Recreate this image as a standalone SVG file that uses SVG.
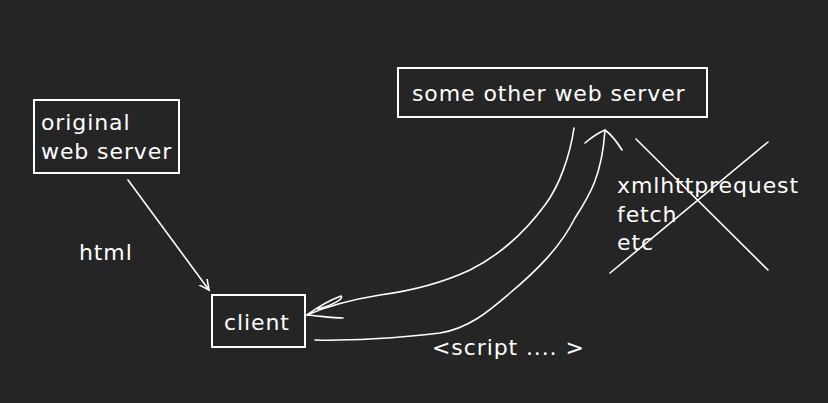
<svg xmlns="http://www.w3.org/2000/svg" width="828" height="403" viewBox="0 0 828 403">
<style>
.bg{fill:#252525}
.box{fill:none;stroke:#ffffff;stroke-width:2}
.ln{fill:none;stroke:#ffffff;stroke-width:1.6;stroke-linecap:round;stroke-linejoin:round}
.t{font-family:"DejaVu Sans",Verdana,sans-serif;font-size:22px;letter-spacing:0.9px;fill:#ffffff}
</style>
<defs>
<marker id="ah" markerWidth="12" markerHeight="12" refX="10" refY="6" orient="auto" markerUnits="userSpaceOnUse">
<path d="M0,1 L10,6 L0,11" fill="none" stroke="#ffffff" stroke-width="1.6"/>
</marker>
</defs>
<rect class="bg" x="0" y="0" width="828" height="403"/>
<g id="original">
<rect class="box" x="34" y="100" width="145" height="73"/>
<text class="t" x="41" y="130">original</text>
<text class="t" x="41" y="159">web server</text>
</g>
<g id="client">
<rect class="box" x="212" y="295" width="93" height="52"/>
<text class="t" x="224" y="330">client</text>
</g>
<g id="other">
<rect class="box" x="398" y="68" width="309" height="49"/>
<text class="t" x="412" y="101">some other web server</text>
</g>
<g id="xhr">
<text class="t" x="617" y="193">xmlhttprequest</text>
<text class="t" x="617" y="221.5">fetch</text>
<text class="t" x="617" y="250">etc</text>
<path class="ln" d="M636,139 L768,270 M610,273 L768,142"/>
</g>
<g id="connectors">
<path class="ln" d="M128,180 L209,290" marker-end="url(#ah)"/>
<text class="t" x="79" y="260">html</text>
<path class="ln" d="M574,128 C570,155 560,185 545,205 C525,232 500,255 470,270 C440,284 410,291 380,295 C355,299 330,305 307,315"/>
<path class="ln" d="M307,315 C318,307 330,300 341,296 C344,298 336,304 318,309 M307,315 C320,316 332,318 343,318"/>
<path class="ln" d="M315,340 C345,341 400,338 440,333 C470,328 490,310 510,293 C535,272 560,248 575,218 C590,195 602,175 605,130"/>
<path class="ln" d="M585,143 C592,137 598,133 605,130 C612,135 617,142 622,150"/>
<text class="t" x="432" y="355">&lt;script .... &gt;</text>
</g>
</svg>
